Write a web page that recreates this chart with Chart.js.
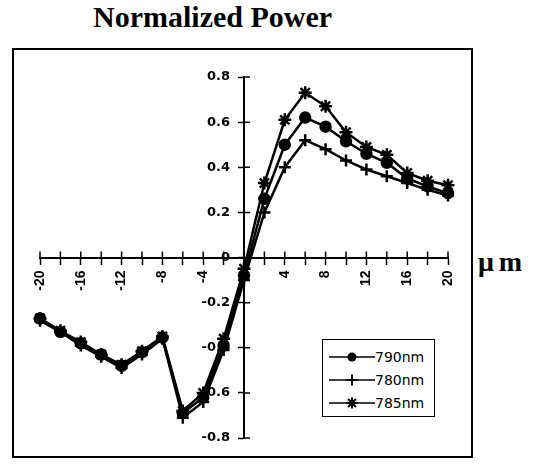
<!DOCTYPE html>
<html>
<head>
<meta charset="utf-8">
<script src="https://cdn.jsdelivr.net/npm/chart.js@4.4.0/dist/chart.umd.min.js"></script>
<style>
body { margin: 0; background: #fff; width: 537px; height: 468px; position: relative; overflow: hidden; }
#title { position: absolute; left: 93px; top: 2px; font: bold 30px/30px "Liberation Serif", serif; white-space: nowrap; }
#frame { position: absolute; left: 12px; top: 48px; width: 461px; height: 410px; border: 2px solid #000; box-sizing: border-box; }
#unit { position: absolute; left: 478px; top: 248px; font: bold 28px/28px "Liberation Serif", serif; letter-spacing: 5px; }
#legend { position: absolute; left: 322px; top: 339px; width: 113px; height: 78px; border: 1.5px solid #000; box-sizing: border-box; background: #fff; z-index: 2; padding-top: 5px; }
.row { height: 23px; display: flex; align-items: center; font: 14px "DejaVu Sans", sans-serif; }
.row svg { margin-left: 6px; }
canvas { position: absolute; left: 0; top: 0; z-index: 1; }
</style>
</head>
<body>
<div id="title">Normalized Power</div>
<div id="frame"></div>
<div id="unit">μm</div>
<div id="legend"></div>
<canvas id="chart" width="537" height="468"></canvas>
<script>
// Dados
const xs = [-20, -18, -16, -14, -12, -10, -8, -6, -4, -2, 0, 2, 4, 6, 8, 10, 12, 14, 16, 18, 20];
const s790 = [-0.27, -0.33, -0.38, -0.43, -0.48, -0.42, -0.355, -0.69, -0.62, -0.39, -0.08, 0.26, 0.50, 0.62, 0.58, 0.515, 0.46, 0.42, 0.35, 0.315, 0.285];
const s780 = [-0.28, -0.33, -0.39, -0.44, -0.49, -0.43, -0.36, -0.71, -0.64, -0.41, -0.10, 0.20, 0.40, 0.52, 0.48, 0.43, 0.39, 0.36, 0.33, 0.30, 0.275];
const s785 = [-0.27, -0.325, -0.375, -0.43, -0.475, -0.415, -0.35, -0.68, -0.60, -0.36, -0.05, 0.33, 0.61, 0.73, 0.67, 0.555, 0.49, 0.455, 0.375, 0.34, 0.32];
const seriesNames = ['790nm', '780nm', '785nm'];
const seriesValues = [s790, s780, s785];
const markers = ['circle', 'cross', 'star'];
const markerSizes = [5, 6, 6.5];
const xLabelStep = 4;

// Eixo y passa pelo x = 0, marcas cruzando os eixos
const crossAxes = {
    id: 'crossAxes',
    afterLayout(chart) {
        const y = chart.scales.y;
        y.left = 0;
        y.right = chart.scales.x.getPixelForValue(0);
        y.width = y.right;
    },
    beforeDatasetsDraw(chart) {
        const { ctx, scales: { x, y } } = chart;
        const x0 = x.getPixelForValue(0);
        const y0 = y.getPixelForValue(0);
        ctx.save();
        ctx.strokeStyle = '#000';
        ctx.lineWidth = 1.5;
        ctx.beginPath();
        x.ticks.forEach(t => {
            const px = x.getPixelForValue(t.value);
            ctx.moveTo(px, y0 - 6);
            ctx.lineTo(px, y0);
        });
        y.ticks.forEach(t => {
            const py = y.getPixelForValue(t.value);
            ctx.moveTo(x0, py);
            ctx.lineTo(x0 + 6, py);
        });
        ctx.stroke();
        ctx.restore();
    }
};

const chart = new Chart(document.getElementById('chart').getContext('2d'), {
    type: 'line',
    data: {
        datasets: seriesNames.map((name, i) => ({
            label: name,
            data: xs.map((x, j) => ({ x: x, y: seriesValues[i][j] })),
            borderColor: '#000',
            backgroundColor: '#000',
            borderWidth: 2.5,
            pointStyle: markers[i],
            pointRadius: markerSizes[i],
            pointBorderWidth: 2.5,
            tension: 0,
            clip: false
        }))
    },
    options: {
        responsive: false,
        animation: false,
        layout: { padding: { left: 40, top: 77, right: 89, bottom: 30 } },
        plugins: { legend: { display: false }, tooltip: { enabled: false } },
        scales: {
            x: {
                type: 'linear',
                min: -20,
                max: 20,
                position: { y: 0 },
                afterFit: s => { s.height = 0; },
                grid: { drawOnChartArea: false, tickLength: 6, tickWidth: 1.5, tickColor: '#000' },
                border: { color: '#000', width: 2 },
                ticks: {
                    stepSize: 2,
                    autoSkip: false,
                    minRotation: 90,
                    maxRotation: 90,
                    padding: 7,
                    color: '#000',
                    font: { family: 'Liberation Sans', weight: 'bold', size: 14 },
                    callback: v => (v !== 0 && v % xLabelStep === 0) ? String(v) : ''
                }
            },
            y: {
                type: 'linear',
                min: -0.8,
                max: 0.8,
                position: 'left',
                afterFit: s => { s.width = 0; },
                grid: { drawOnChartArea: false, tickLength: 6, tickWidth: 1.5, tickColor: '#000' },
                border: { color: '#000', width: 2 },
                ticks: {
                    stepSize: 0.2,
                    padding: 8,
                    color: '#000',
                    font: { family: 'DejaVu Sans', weight: 'bold', size: 13 },
                    callback: v => String(Math.round(v * 10) / 10)
                }
            }
        }
    },
    plugins: [crossAxes]
});

// Legenda
const svgMarker = {
    circle: '<circle cx="23" cy="8" r="4.5" fill="#000"/>',
    cross: '<path d="M23 2.5V13.5M17.5 8H28.5" stroke="#000" stroke-width="2"/>',
    star: '<path d="M23 2.5V13.5M17.5 8H28.5M19 4L27 12M27 4L19 12" stroke="#000" stroke-width="2"/>'
};
const legend = document.getElementById('legend');
seriesNames.forEach((name, i) => {
    const row = document.createElement('div');
    row.className = 'row';
    row.innerHTML = '<svg width="46" height="16"><line x1="0" y1="8" x2="46" y2="8" stroke="#000" stroke-width="1.3"/>' +
        svgMarker[markers[i]] + '</svg><span>' + name + '</span>';
    legend.appendChild(row);
});
</script>
</body>
</html>
